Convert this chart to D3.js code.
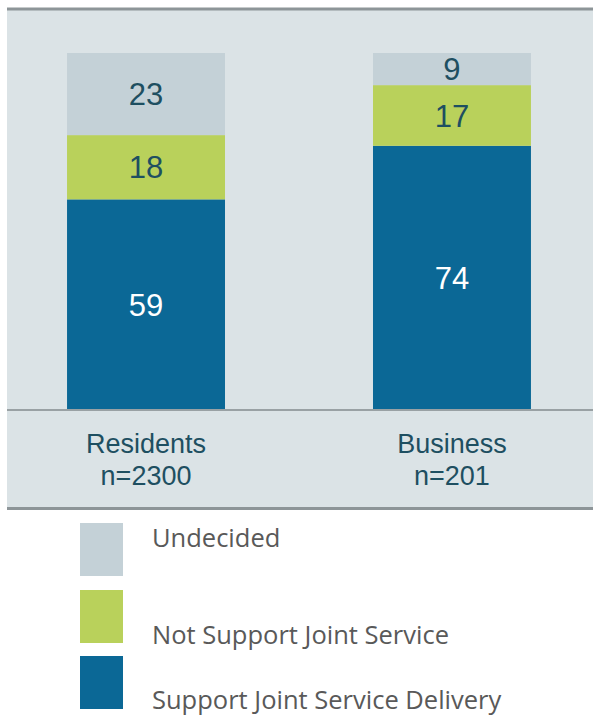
<!DOCTYPE html>
<html>
<head>
<meta charset="utf-8">
<script src="https://cdn.jsdelivr.net/npm/d3@7"></script>
<style>
  html, body { margin: 0; padding: 0; background: #ffffff; }
  svg { display: block; }
</style>
</head>
<body>
<svg id="chart" width="593" height="715"></svg>
<script>
// Survey groups shown along the x axis
const categories = ["Residents", "Business"];
const sampleSizes = ["n=2300", "n=201"];

// Stacked shares (percent), bottom to top
const seriesKeys = ["support", "notSupport", "undecided"];
const seriesNames = ["Support Joint Service Delivery", "Not Support Joint Service", "Undecided"];
const supportValues = [59, 74];
const notSupportValues = [18, 17];
const undecidedValues = [23, 9];

// Legend order, top to bottom
const legendKeys = ["undecided", "notSupport", "support"];

const colors = {
  support: "#0b6896",
  notSupport: "#b9d15b",
  undecided: "#c4d1d7"
};
const labelColors = {
  support: "#ffffff",
  notSupport: "#1e4f61",
  undecided: "#1e4f61"
};

const rows = categories.map((c, i) => ({
  category: c,
  support: supportValues[i],
  notSupport: notSupportValues[i],
  undecided: undecidedValues[i]
}));

const svg = d3.select("#chart");

// Plot panel
const panel = { left: 7, right: 593, top: 9, bottom: 509 };
const baseY = 410;

svg.append("rect")
  .attr("x", panel.left).attr("y", panel.top)
  .attr("width", panel.right - panel.left)
  .attr("height", panel.bottom - panel.top)
  .attr("fill", "#dbe3e6");

svg.append("line")
  .attr("x1", panel.left).attr("x2", panel.right)
  .attr("y1", panel.top).attr("y2", panel.top)
  .attr("stroke", "#8d9598").attr("stroke-width", 3);
svg.append("line")
  .attr("x1", panel.left).attr("x2", panel.right)
  .attr("y1", panel.bottom - 0.5).attr("y2", panel.bottom - 0.5)
  .attr("stroke", "#8d9598").attr("stroke-width", 3);

const x = d3.scaleBand()
  .domain(categories)
  .range([panel.left - 1, panel.right - 1])
  .paddingInner(0.4837)
  .paddingOuter(0.1995);

const y = d3.scaleLinear().domain([0, 100]).range([baseY, 53]);

const stacked = d3.stack().keys(seriesKeys)(rows);

const layers = svg.append("g").selectAll("g")
  .data(stacked)
  .join("g")
  .attr("fill", d => colors[d.key]);

layers.selectAll("rect")
  .data(d => d.map(p => ({ key: d.key, p })))
  .join("rect")
  .attr("x", d => x(d.p.data.category))
  .attr("width", x.bandwidth())
  .attr("y", d => y(d.p[1]))
  .attr("height", d => y(d.p[0]) - y(d.p[1]));

// Value labels centred in each segment
layers.selectAll("text")
  .data(d => d.map(p => ({ key: d.key, p })))
  .join("text")
  .attr("x", d => x(d.p.data.category) + x.bandwidth() / 2)
  .attr("y", d => (y(d.p[0]) + y(d.p[1])) / 2)
  .attr("dy", "0.36em")
  .attr("text-anchor", "middle")
  .attr("font-family", "'Liberation Sans', Arial, sans-serif")
  .attr("font-size", 31)
  .attr("fill", d => labelColors[d.key])
  .text(d => d.p[1] - d.p[0]);

// Category axis
const axis = svg.append("g").attr("transform", `translate(0,${baseY})`)
  .call(d3.axisBottom(x).tickSize(0).tickPadding(0));
axis.select(".domain").remove();
axis.append("line")
  .attr("x1", panel.left).attr("x2", panel.right)
  .attr("y1", 0).attr("y2", 0)
  .attr("stroke", "#99a1a4").attr("stroke-width", 2);
axis.selectAll(".tick text").remove();
axis.selectAll(".tick").each(function(d, i) {
  const t = d3.select(this).append("text")
    .attr("text-anchor", "middle")
    .attr("font-family", "'Liberation Sans', Arial, sans-serif")
    .attr("font-size", 27)
    .attr("fill", "#1e4f61");
  t.append("tspan").attr("x", 0).attr("y", 43).text(d);
  t.append("tspan").attr("x", 0).attr("y", 75).text(sampleSizes[i]);
});

// Legend
const legendSwatchY = { undecided: 523, notSupport: 590, support: 656 };
const legendTextY = { undecided: 547, notSupport: 644, support: 709 };
const legend = svg.append("g");
legendKeys.forEach(k => {
  legend.append("rect")
    .attr("x", 80).attr("y", legendSwatchY[k])
    .attr("width", 43).attr("height", 53)
    .attr("fill", colors[k]);
  legend.append("text")
    .attr("x", 152).attr("y", legendTextY[k])
    .attr("font-family", "'Open Sans', 'Noto Sans', sans-serif")
    .attr("font-size", 25.5)
    .attr("fill", "#595959")
    .text(seriesNames[seriesKeys.indexOf(k)]);
});
</script>
</body>
</html>
